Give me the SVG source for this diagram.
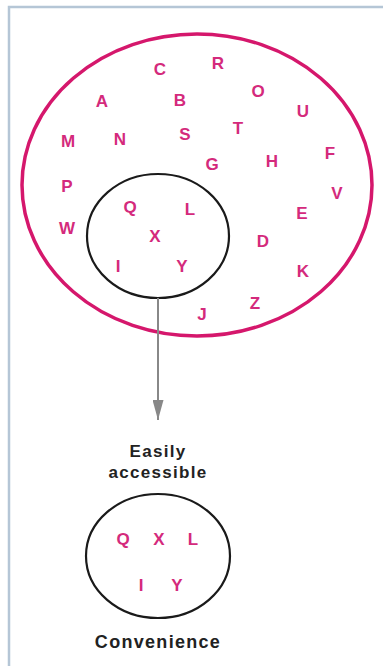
<svg xmlns="http://www.w3.org/2000/svg" width="383" height="666" viewBox="0 0 383 666">
<defs>
<style>
.lt{font-family:"Liberation Sans",Arial,sans-serif;font-weight:bold;font-size:17px;fill:#d42a7c;text-anchor:middle}
.lb{font-family:"Liberation Sans",Arial,sans-serif;font-weight:bold;font-size:17px;fill:#222;text-anchor:middle;letter-spacing:1.3px}
.blk{fill:none;stroke:#1a1a1a;stroke-width:2.2}
</style>
<marker id="ah" viewBox="0 0 20 11" refX="20" refY="5.5" markerWidth="20" markerHeight="11" markerUnits="userSpaceOnUse" orient="auto">
<path d="M0,0 L20,5.5 L0,11 z" fill="#888"/>
</marker>
</defs>
<rect width="383" height="666" fill="#fff"/>
<path d="M9,666 V7 H383" fill="none" stroke="#b5c6d6" stroke-width="2.5"/>
<g id="population">
<ellipse cx="197" cy="185" rx="175" ry="151" fill="none" stroke="#d5176c" stroke-width="3.5"/>
<text class="lt" x="160" y="75">C</text>
<text class="lt" x="218" y="69">R</text>
<text class="lt" x="102" y="107">A</text>
<text class="lt" x="180" y="106">B</text>
<text class="lt" x="258" y="97">O</text>
<text class="lt" x="303" y="117">U</text>
<text class="lt" x="68" y="147">M</text>
<text class="lt" x="120" y="145">N</text>
<text class="lt" x="185" y="140">S</text>
<text class="lt" x="238" y="134">T</text>
<text class="lt" x="212" y="170">G</text>
<text class="lt" x="272" y="167">H</text>
<text class="lt" x="330" y="159">F</text>
<text class="lt" x="67" y="192">P</text>
<text class="lt" x="337" y="199">V</text>
<text class="lt" x="67" y="234">W</text>
<text class="lt" x="302" y="219">E</text>
<text class="lt" x="263" y="247">D</text>
<text class="lt" x="303" y="277">K</text>
<text class="lt" x="255" y="309">Z</text>
<text class="lt" x="202" y="320">J</text>
</g>
<g id="sample">
<ellipse class="blk" cx="158" cy="236" rx="71" ry="62"/>
<text class="lt" x="130" y="213">Q</text>
<text class="lt" x="190" y="215">L</text>
<text class="lt" x="155" y="242">X</text>
<text class="lt" x="118" y="272">I</text>
<text class="lt" x="182" y="272">Y</text>
</g>
<g id="connectors">
<line x1="158" y1="298" x2="158" y2="420" stroke="#888" stroke-width="2" marker-end="url(#ah)"/>
</g>
<g id="label-easily">
<text class="lb" x="158" y="457">Easily</text>
<text class="lb" x="158" y="478">accessible</text>
</g>
<g id="convenience">
<ellipse class="blk" cx="158" cy="556" rx="72" ry="62"/>
<text class="lt" x="123" y="545">Q</text>
<text class="lt" x="159" y="545">X</text>
<text class="lt" x="193" y="545">L</text>
<text class="lt" x="141" y="591">I</text>
<text class="lt" x="177" y="591">Y</text>
<text class="lb" x="158" y="648" style="font-size:18px">Convenience</text>
</g>
</svg>
